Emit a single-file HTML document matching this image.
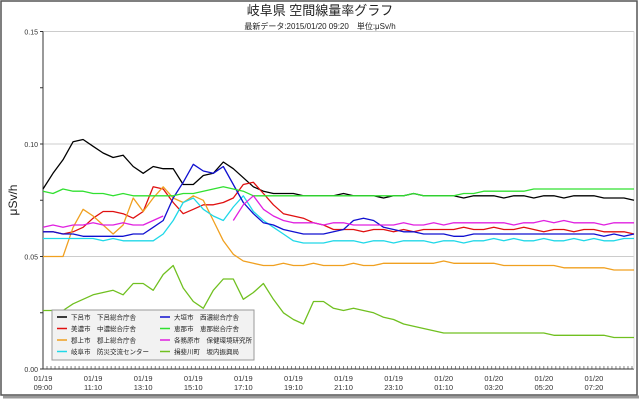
<!DOCTYPE html>
<html><head><meta charset="utf-8"><style>
body{margin:0;background:#fff;}
svg{display:block;font-family:"Liberation Sans","Noto Sans CJK JP",sans-serif;}
</style></head><body>
<svg id="c" width="640" height="400">
<rect x="0" y="0" width="640" height="400" fill="#fff"/>
<rect x="1" y="1" width="636" height="394" fill="none" stroke="#555" stroke-width="1.5"/>
<line x1="3" y1="397" x2="639" y2="397" stroke="#999" stroke-width="3"/>
<text x="320" y="15" text-anchor="middle" font-size="13" fill="#222">岐阜県 空間線量率グラフ</text>
<text x="320" y="29" text-anchor="middle" font-size="8" fill="#222">最新データ:2015/01/20 09:20　単位:μSv/h</text>
<text transform="translate(17,200) rotate(-90)" text-anchor="middle" font-size="12" fill="#222">μSv/h</text>
<g id="grid"></g><g id="axes"></g><g id="series"></g><g id="legend"></g>
</svg>
<script>
const tickLabels=["01/19\n09:00","01/19\n11:10","01/19\n13:10","01/19\n15:10","01/19\n17:10","01/19\n19:10","01/19\n21:10","01/19\n23:10","01/20\n01:10","01/20\n03:20","01/20\n05:20","01/20\n07:20"];
const yTicks=[0,0.05,0.10,0.15];
const yTickLabels=["0.00","0.05","0.10","0.15"];
const names=["下呂市　下呂総合庁舎","美濃市　中濃総合庁舎","郡上市　郡上総合庁舎","岐阜市　防災交流センター","大垣市　西濃総合庁舎","恵那市　恵那総合庁舎","各務原市　保健環境研究所","揖斐川町　坂内振興局"];
const colors=["#000000","#e01010","#f0a020","#20d8e8","#1010d0","#30e030","#e020e0","#70c020"];
const sShimo=[.080,.087,.093,.101,.102,.099,.096,.094,.095,.090,.087,.090,.089,.089,.082,.082,.086,.087,.092,.089,.085,.081,.079,.078,.078,.078,.077,.077,.077,.077,.078,.077,.077,.077,.076,.077,.077,.078,.077,.077,.077,.077,.076,.077,.077,.077,.076,.077,.077,.076,.077,.077,.076,.077,.077,.077,.076,.076,.076,.075];
const sMino=[.061,.061,.060,.061,.063,.067,.070,.070,.069,.067,.070,.081,.080,.074,.069,.071,.073,.073,.074,.076,.082,.083,.078,.073,.069,.068,.067,.065,.064,.062,.062,.062,.061,.062,.062,.061,.062,.061,.062,.062,.062,.062,.063,.062,.062,.063,.062,.062,.063,.062,.061,.062,.062,.061,.062,.062,.061,.061,.061,.060];
const sGujo=[.050,.050,.050,.063,.071,.068,.064,.060,.064,.076,.070,.076,.081,.076,.074,.077,.075,.066,.057,.051,.048,.047,.046,.046,.047,.046,.046,.047,.046,.046,.046,.047,.046,.046,.047,.047,.047,.047,.047,.047,.048,.047,.047,.047,.047,.047,.046,.046,.046,.046,.046,.046,.045,.045,.045,.045,.045,.044,.044,.044];
const sGifu=[.058,.058,.058,.058,.058,.058,.057,.058,.057,.057,.057,.057,.060,.066,.074,.076,.071,.068,.066,.072,.077,.070,.066,.063,.060,.057,.056,.056,.056,.057,.057,.057,.056,.057,.057,.056,.057,.057,.057,.056,.057,.057,.056,.057,.057,.058,.057,.058,.057,.057,.058,.057,.057,.058,.057,.058,.057,.057,.058,.058];
const sOgaki=[.061,.061,.060,.060,.059,.059,.059,.059,.059,.060,.060,.063,.066,.076,.083,.091,.088,.087,.090,.082,.074,.069,.065,.064,.062,.061,.060,.060,.060,.061,.062,.066,.067,.066,.063,.062,.061,.061,.060,.060,.060,.059,.059,.060,.060,.060,.060,.060,.060,.060,.060,.060,.060,.060,.060,.060,.059,.060,.059,.060];
const sEna=[.079,.078,.080,.079,.079,.078,.078,.077,.078,.077,.077,.077,.077,.077,.078,.078,.079,.080,.081,.080,.079,.077,.077,.077,.077,.077,.077,.077,.077,.077,.077,.077,.077,.077,.077,.077,.077,.078,.077,.077,.077,.077,.078,.078,.079,.079,.079,.079,.079,.080,.080,.080,.080,.080,.080,.080,.080,.080,.080,.080];
const sKaka=[.063,.064,.063,.064,.064,.065,.064,.064,.065,.064,.064,.066,.068,null,null,null,null,null,null,.066,.073,.077,.071,.068,.066,.065,.065,.065,.064,.065,.065,.064,.064,.064,.064,.064,.065,.064,.064,.065,.064,.065,.065,.065,.065,.065,.065,.064,.065,.065,.066,.065,.066,.065,.065,.065,.064,.065,.065,.065];
const sSakauchi=[.026,.026,.026,.029,.031,.033,.034,.035,.033,.038,.038,.035,.042,.046,.036,.030,.027,.035,.040,.040,.031,.034,.038,.031,.025,.022,.020,.030,.030,.027,.026,.027,.026,.025,.023,.022,.020,.019,.018,.017,.016,.016,.016,.016,.016,.016,.016,.016,.016,.016,.016,.015,.015,.015,.015,.015,.015,.014,.014,.014];
const seriesList=[sShimo,sMino,sGujo,sGifu,sOgaki,sEna,sKaka,sSakauchi];
const X0=43,X1=634,Y0=369,YT=31.5,YMAX=0.15;
const N=sShimo.length;
const xs=i=>X0+i*(X1-X0)/(N-1);
const ys=v=>Y0-(v/YMAX)*(Y0-YT);
const NS="http://www.w3.org/2000/svg";
function mk(t,a,p){const e=document.createElementNS(NS,t);for(const k in a)e.setAttribute(k,a[k]);p.appendChild(e);return e;}
const grid=document.getElementById('grid'),axes=document.getElementById('axes'),ser=document.getElementById('series'),leg=document.getElementById('legend');
yTicks.forEach((v,k)=>{
 if(v>0){const g=mk('line',{x1:X0,x2:X1,y1:ys(v),y2:ys(v),stroke:'#ccc','stroke-width':1},grid);
 
 }
 const t=mk('text',{x:X0-5,y:ys(v)+3,'text-anchor':'end','font-size':7,fill:'#333'},axes);t.textContent=yTickLabels[k];
 
 
});
for(let v=0;v<=0.15001;v+=0.025){const l=mk('line',{x1:X0-3,x2:X0,y1:ys(v),y2:ys(v),stroke:'#333'},axes);
 
 }
const ya=mk('line',{x1:X0,x2:X0,y1:YT,y2:Y0,stroke:'#333'},axes);


const xa=mk('line',{x1:X0,x2:X1,y1:Y0,y2:Y0,stroke:'#333'},axes);


const ra=mk('line',{x1:X1,x2:X1,y1:YT,y2:Y0,stroke:'#ddd'},axes);


for(let i=0;i<N;i+=0.4){const x=X0+i*(X1-X0)/(N-1);if(x>X1)break;const l=mk('line',{x1:x,x2:x,y1:Y0,y2:Y0-3,stroke:'#333','stroke-width':0.6},axes);
 
 }
tickLabels.forEach((s,k)=>{const p=s.split("\n");const x=xs(k*5);
 const t=mk('text',{x:x,y:Y0+12,'text-anchor':'middle','font-size':7.5,fill:'#333'},axes);
 
 
 mk('tspan',{x:x},t).textContent=p[0];mk('tspan',{x:x,dy:9},t).textContent=p[1];});
seriesList.forEach((d,si)=>{let path='',pen=false;d.forEach((v,i)=>{if(v==null){pen=false;return;}path+=(pen?'L':'M')+xs(i).toFixed(1)+' '+ys(v).toFixed(1);pen=true;});
 const p=mk('path',{d:path,fill:'none',stroke:colors[si],'stroke-width':1.3,'stroke-linejoin':'round'},ser);
 
 });
const lb=mk('rect',{x:52,y:310,width:202,height:50,fill:'#f2f2f2',stroke:'#999'},leg);


names.forEach((n,k)=>{const col=k<4?0:1,row=k%4;const x=col?160:57,y=317+row*11.5;
 const l=mk('line',{x1:x,x2:x+10,y1:y,y2:y,stroke:colors[k],'stroke-width':1.5},leg);
 
 
 const t=mk('text',{x:x+14,y:y+2.5,'font-size':6.5,fill:'#222'},leg);t.textContent=n;
 
 });
</script>
</body></html>
